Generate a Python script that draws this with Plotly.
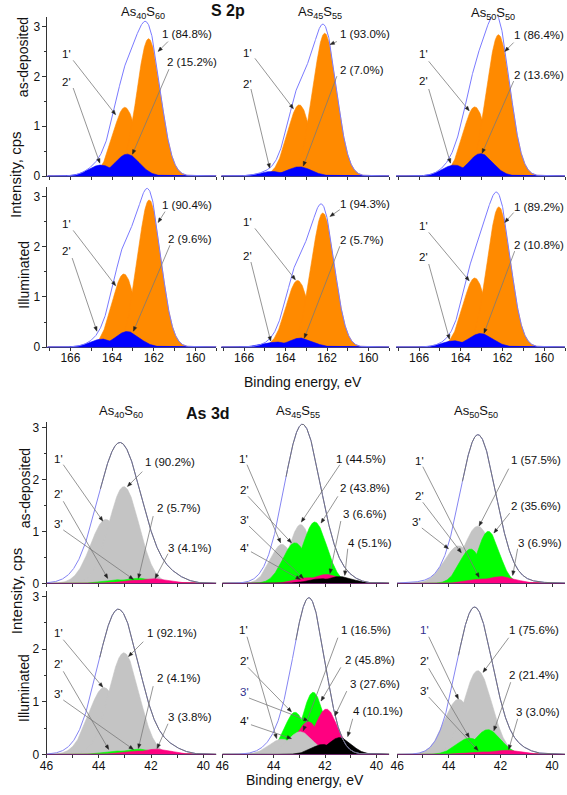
import math
import numpy as np
import plotly.graph_objects as go

W, H = 567, 795

# ---------------- data ----------------
COMPOSITIONS = ["As<sub>40</sub>S<sub>60</sub>", "As<sub>45</sub>S<sub>55</sub>", "As<sub>50</sub>S<sub>50</sub>"]
ROW_LABELS = ["as-deposited", "Illuminated"]
S2P_TICKS = [166, 164, 162, 160]
S2P_MINOR = [167, 165, 163, 161, 159]
AS3D_TICKS = [46, 44, 42, 40]
AS3D_MINOR = [45, 43, 41]
Y_TICKS = [0, 1, 2, 3]
S2P_X_RANGE = [167.1, 159.0]
AS3D_X_RANGE = [46.0, 39.5]
S2P_Y_RANGE = [0, 3.2]
AS3D_Y_RANGE = [0, 3.1]

# panel order: as-dep 40/60, 45/55, 50/50, illuminated 40/60, 45/55, 50/50
S2P_P1_POS = [162.25, 162.11, 162.19, 162.22, 162.20, 162.17]
S2P_P1_H = [2.76, 2.87, 2.84, 2.94, 2.68, 2.80]
S2P_P1P_POS = [163.39, 163.34, 163.33, 163.44, 163.42, 163.33]
S2P_P1P_H = [1.38, 1.43, 1.39, 1.46, 1.33, 1.38]
S2P_P1_SIGMA = [0.57, 0.57, 0.57, 0.56, 0.56, 0.56]
S2P_P2_POS = [163.28, 163.34, 163.05, 163.28, 163.28, 163.05]
S2P_P2_H = [0.44, 0.185, 0.45, 0.31, 0.18, 0.27]
S2P_P2P_POS = [164.54, 164.66, 164.31, 164.46, 164.42, 164.31]
S2P_P2P_H = [0.22, 0.09, 0.22, 0.16, 0.10, 0.125]
S2P_P2_SIGMA = [0.58, 0.58, 0.58, 0.58, 0.58, 0.58]
S2P_PCT_1 = ["1 (84.8%)", "1 (93.0%)", "1 (86.4%)", "1 (90.4%)", "1 (94.3%)", "1 (89.2%)"]
S2P_PCT_2 = ["2 (15.2%)", "2 (7.0%)", "2 (13.6%)", "2 (9.6%)", "2 (5.7%)", "2 (10.8%)"]

AS3D_P1_POS = [43.04, 42.95, 42.88, 43.04, 42.97, 42.88]
AS3D_P1_H = [1.86, 1.13, 1.10, 1.93, 0.43, 1.59]
AS3D_P1P_POS = [43.73, 43.68, 43.62, 43.80, 43.67, 43.62]
AS3D_P1P_H = [1.23, 0.75, 0.72, 1.27, 0.29, 1.05]
AS3D_P1_SIGMA = [0.58, 0.45, 0.55, 0.58, 0.50, 0.55]
AS3D_P2_POS = [42.47, 42.40, 42.47, 42.47, 42.46, 42.49]
AS3D_P2_H = [0.10, 1.18, 1.00, 0.10, 1.18, 0.47]
AS3D_P2P_POS = [43.17, 43.17, 43.16, 43.17, 43.17, 43.20]
AS3D_P2P_H = [0.07, 0.78, 0.66, 0.065, 0.80, 0.31]
AS3D_P2_SIGMA = [0.55, 0.47, 0.42, 0.55, 0.42, 0.50]
AS3D_P3_POS = [41.84, 41.95, 41.98, 41.78, 41.95, 41.73]
AS3D_P3_H = [0.09, 0.17, 0.13, 0.10, 0.86, 0.08]
AS3D_P3P_POS = [42.54, 42.65, 42.68, 42.48, 42.65, 42.43]
AS3D_P3P_H = [0.06, 0.11, 0.085, 0.065, 0.62, 0.05]
AS3D_P3_SIGMA = [0.55, 0.50, 0.55, 0.55, 0.45, 0.55]
AS3D_P4_POS = [0, 41.43, 0, 0, 41.43, 0]
AS3D_P4_H = [0, 0.13, 0, 0, 0.32, 0]
AS3D_P4P_POS = [0, 42.13, 0, 0, 42.08, 0]
AS3D_P4P_H = [0, 0.09, 0, 0, 0.19, 0]
AS3D_P4_SIGMA = [0.5, 0.5, 0.5, 0.5, 0.45, 0.5]
AS3D_ENV_POS = [43.19, 42.88, 42.87, 43.25, 42.60, 43.00]
AS3D_ENV_H = [2.71, 3.06, 2.74, 2.76, 2.90, 2.80]
AS3D_ENV_SIGMA = [0.835, 0.71, 0.68, 0.79, 0.60, 0.70]
AS3D_TAIL_POS = [41.2, 41.3, 42.9, 41.3, 43.6, 41.3]
AS3D_TAIL_H = [0.10, 0.10, 0.12, 0.10, 0.30, 0.08]
AS3D_TAIL_SIGMA = [0.5, 0.5, 1.3, 0.5, 0.6, 0.5]
AS3D_PCT = [
    ["1 (90.2%)", "2 (5.7%)", "3 (4.1%)"],
    ["1 (44.5%)", "2 (43.8%)", "3 (6.6%)", "4 (5.1%)"],
    ["1 (57.5%)", "2 (35.6%)", "3 (6.9%)"],
    ["1 (92.1%)", "2 (4.1%)", "3 (3.8%)"],
    ["1 (16.5%)", "2 (45.8%)", "3 (27.6%)", "4 (10.1%)"],
    ["1 (75.6%)", "2 (21.4%)", "3 (3.0%)"],
]
AS3D_PRIMES = [["1'", "2'", "3'"], ["1'", "2'", "3'", "4'"], ["1'", "2'", "3'"],
               ["1'", "2'", "3'"], ["1'", "2'", "3'", "4'"], ["1'", "2'", "3'"]]

# ---------------- layout / style (pixels) ----------------
FONT = "Liberation Sans, Arial, sans-serif"
ORANGE, BLUE, S2P_ENV = "#ff8a00", "#0000ff", "#7a7aff"
GRAY, GREEN, PINK, BLACK = "#c4c4c4", "#00ff00", "#ff0080", "#000000"
NAVY = "#2e2e8c"
COLS_TOP = [(41, 212), (217, 387), (394, 565)]
ROWS_TOP = [(15, 176), (187, 349)]
COLS_BOT = [(40, 212), (218, 387), (395, 565)]
ROWS_BOT = [(425, 588), (596, 761)]
DRAW_ORDER = [[1, 2, 3, 4], [1, 2, 3, 4], [1, 2, 3, 4], [1, 2, 3, 4], [2, 3, 1, 4], [1, 2, 3, 4]]
LABEL_SIZE = 11.5
ENV_GRAY_SPAN = 0.9  # gray envelope colour on the high-energy flank down to this many sigma
PRIME_COLORS = [["#111"] * 3, ["#111"] * 4, ["#111"] * 3,
                ["#111"] * 3, ["#111", "#111", NAVY, "#111"], [NAVY, "#111", "#111"]]

S2P_PRIME_LAYOUT = [
    [((60, 53), (67, 59), (110, 114)), ((60, 81), (67, 87), (94, 163))],
    [((244, 52), (251, 57), (290, 108)), ((244, 83), (247, 88), (266, 168))],
    [((422, 53), (427, 60), (468, 110)), ((422, 80), (427, 88), (449, 163))],
    [((60, 225), (67, 231), (110, 287)), ((60, 252), (66, 259), (91, 333))],
    [((244, 223), (251, 229), (292, 281)), ((244, 257), (247, 263), (267, 343))],
    [((422, 227), (427, 233), (468, 282)), ((422, 258), (427, 265), (448, 341))],
]
S2P_PCT_LAYOUT = [
    [((157, 32), (163, 40), (153, 50)), ((162, 61), (164, 68), (127, 154))],
    [((337, 32), (334, 40), (327, 43)), ((337, 69), (334, 75), (300, 166))],
    [((513, 33), (513, 41), (504, 50)), ((513, 74), (513, 80), (481, 153))],
    [((157, 205), (160, 212), (153, 223)), ((163, 240), (165, 246), (128, 333))],
    [((337, 204), (337, 210), (327, 217)), ((337, 241), (337, 247), (301, 340))],
    [((513, 207), (513, 213), (504, 223)), ((513, 246), (514, 252), (483, 335))],
]
AS3D_PRIME_LAYOUT = [
    [((52, 462), (57, 468), (97, 525)), ((52, 498), (57, 505), (102, 583)), ((52, 528), (57, 534), (128, 584))],
    [((239, 462), (243, 468), (277, 547)), ((240, 494), (244, 500), (288, 547)),
     ((240, 524), (245, 530), (300, 583)), ((240, 552), (247, 556), (297, 584))],
    [((418, 464), (421, 470), (478, 582)), ((418, 500), (421, 506), (460, 557)), ((415, 526), (420, 532), (447, 553))],
    [((52, 638), (57, 645), (97, 693)), ((52, 670), (57, 677), (103, 756)), ((52, 700), (57, 706), (128, 756))],
    [((239, 635), (243, 642), (273, 745)), ((240, 667), (244, 673), (288, 718)),
     ((240, 698), (245, 704), (305, 727)), ((240, 727), (247, 731), (288, 745))],
    [((423, 635), (427, 642), (457, 705)), ((423, 667), (427, 674), (468, 744)), ((423, 697), (427, 703), (477, 757))],
]
AS3D_PCT_LAYOUT = [
    [((140, 465), (137, 475), (122, 490)), ((152, 512), (148, 520), (133, 583)), ((163, 552), (163, 558), (150, 583))],
    [((333, 462), (337, 468), (298, 526)), ((337, 492), (335, 500), (318, 527)),
     ((340, 518), (338, 525), (327, 578)), ((345, 547), (345, 553), (342, 580))],
    [((510, 463), (508, 472), (478, 530)), ((510, 510), (509, 517), (493, 537)), ((517, 547), (517, 553), (512, 580))],
    [((142, 638), (138, 647), (123, 662)), ((152, 684), (148, 692), (133, 755)), ((163, 723), (163, 730), (152, 755))],
    [((338, 635), (335, 643), (300, 737)), ((342, 666), (338, 673), (318, 707)),
     ((347, 690), (344, 697), (332, 722)), ((350, 717), (350, 725), (345, 743))],
    [((508, 635), (508, 643), (482, 678)), ((508, 681), (510, 688), (493, 737)), ((515, 718), (517, 725), (508, 756))],
]


def gauss(x, c, h, s):
    return h * np.exp(-(x - c) ** 2 / (2 * s * s))


def px2paper(px, py):
    return px / W, 1 - py / H


fig = go.Figure()
layout = dict(width=W, height=H, margin=dict(l=0, r=0, t=0, b=0), showlegend=False,
              plot_bgcolor="white", paper_bgcolor="white", font=dict(family=FONT, color="#111"))
annotations = []
shapes = []


def add_fill(x, y, color, xa, ya):
    fig.add_trace(go.Scatter(x=x, y=y, mode="lines", line=dict(width=0.6, color=color),
                             fill="tozeroy", fillcolor=color, xaxis=xa, yaxis=ya, hoverinfo="skip"))


def add_line(x, y, color, xa, ya, w=1.0):
    fig.add_trace(go.Scatter(x=x, y=y, mode="lines", line=dict(width=w, color=color),
                             xaxis=xa, yaxis=ya, hoverinfo="skip"))


def arrow(tail, tip, head=4.5, half=1.7):
    tx, ty = tail
    hx, hy = tip
    dx, dy = hx - tx, hy - ty
    length = math.hypot(dx, dy)
    ux, uy = dx / length, dy / length
    bx, by = hx - ux * head, hy - uy * head
    x0, y0 = px2paper(tx, ty)
    x1, y1 = px2paper(bx, by)
    shapes.append(dict(type="line", xref="paper", yref="paper", x0=x0, y0=y0, x1=x1, y1=y1,
                       line=dict(color="#7a7a7a", width=0.8)))
    pxv, pyv = -uy, ux
    pts = [(hx, hy), (bx + pxv * half, by + pyv * half), (bx - pxv * half, by - pyv * half)]
    pp = [px2paper(*p) for p in pts]
    path = "M {} {} L {} {} L {} {} Z".format(pp[0][0], pp[0][1], pp[1][0], pp[1][1], pp[2][0], pp[2][1])
    shapes.append(dict(type="path", xref="paper", yref="paper", path=path,
                       fillcolor="#222", line=dict(color="#222", width=0.5)))


def label(text, pos, anchor="center", size=LABEL_SIZE, color="#111"):
    x, y = px2paper(*pos)
    annotations.append(dict(x=x, y=y, xref="paper", yref="paper", text=text, showarrow=False,
                            xanchor=anchor, yanchor="middle", borderpad=0, borderwidth=0,
                            font=dict(size=size, family=FONT, color=color)))


def setup_axes(n, xdom, ydom, xrange, yrange, ticks, minor, show_x_labels, show_y, linecolor):
    xid = "x" if n == 1 else f"x{n}"
    yid = "y" if n == 1 else f"y{n}"
    xk = "xaxis" if n == 1 else f"xaxis{n}"
    yk = "yaxis" if n == 1 else f"yaxis{n}"
    layout[xk] = dict(domain=[xdom[0] / W, xdom[1] / W], range=xrange, anchor=yid,
                      showline=True, linecolor=linecolor, linewidth=1, mirror=False,
                      ticks="outside", ticklen=3, tickcolor="#333", tickwidth=1,
                      tickmode="array", tickvals=ticks, showticklabels=show_x_labels,
                      ticklabelstandoff=-3,
                      tickfont=dict(size=12, family=FONT), showgrid=False, zeroline=False,
                      fixedrange=True,
                      minor=dict(tickmode="array", tickvals=minor, ticks="outside", ticklen=3,
                                 tickcolor="#333", showgrid=False))
    ya = dict(domain=[1 - ydom[1] / H, 1 - ydom[0] / H], range=yrange, anchor=xid,
              showgrid=False, zeroline=False, fixedrange=True)
    if show_y:
        ya.update(showline=True, linecolor="#333", linewidth=1, ticks="outside", ticklen=4,
                  tickcolor="#333", tickmode="array", tickvals=Y_TICKS,
                  tickfont=dict(size=12, family=FONT),
                  minor=dict(tickmode="array", tickvals=[0.5, 1.5, 2.5], ticks="outside",
                             ticklen=2, tickcolor="#333", showgrid=False))
    else:
        ya.update(visible=False)
    layout[yk] = ya
    return xid, yid


# ---------------- S 2p block ----------------
for i in range(6):
    r, c = divmod(i, 3)
    n = i + 1
    xa, ya = setup_axes(n, COLS_TOP[c], ROWS_TOP[r], S2P_X_RANGE, S2P_Y_RANGE,
                        S2P_TICKS, S2P_MINOR, r == 1, c == 0, "#3a3a8a")
    x = np.linspace(S2P_X_RANGE[1], S2P_X_RANGE[0], 600)
    s1, s2 = S2P_P1_SIGMA[i], S2P_P2_SIGMA[i]
    p1 = gauss(x, S2P_P1_POS[i], S2P_P1_H[i], s1)
    p1p = gauss(x, S2P_P1P_POS[i], S2P_P1P_H[i], s1)
    p2 = gauss(x, S2P_P2_POS[i], S2P_P2_H[i], s2)
    p2p = gauss(x, S2P_P2P_POS[i], S2P_P2P_H[i], s2)
    add_fill(x, p1p, ORANGE, xa, ya)
    add_fill(x, p1, ORANGE, xa, ya)
    add_fill(x, p2p, BLUE, xa, ya)
    add_fill(x, p2, BLUE, xa, ya)
    add_line(x, p1 + p1p + p2 + p2p, S2P_ENV, xa, ya, 1.0)
    for txt, lay in zip(["1'", "2'"], S2P_PRIME_LAYOUT[i]):
        label(txt, lay[0], "center")
        arrow(lay[1], lay[2])
    for txt, lay in zip([S2P_PCT_1[i], S2P_PCT_2[i]], S2P_PCT_LAYOUT[i]):
        label(txt, lay[0], "left")
        arrow(lay[1], lay[2])

# ---------------- As 3d block ----------------
AS3D_COLORS = {1: GRAY, 2: GREEN, 3: PINK, 4: BLACK}
for i in range(6):
    r, c = divmod(i, 3)
    n = 7 + i
    xa, ya = setup_axes(n, COLS_BOT[c], ROWS_BOT[r], AS3D_X_RANGE, AS3D_Y_RANGE,
                        AS3D_TICKS, AS3D_MINOR, r == 1, c == 0, "#6a2a6a")
    x = np.linspace(AS3D_X_RANGE[1], AS3D_X_RANGE[0], 600)
    comps = {
        1: (AS3D_P1_POS[i], AS3D_P1_H[i], AS3D_P1P_POS[i], AS3D_P1P_H[i], AS3D_P1_SIGMA[i]),
        2: (AS3D_P2_POS[i], AS3D_P2_H[i], AS3D_P2P_POS[i], AS3D_P2P_H[i], AS3D_P2_SIGMA[i]),
        3: (AS3D_P3_POS[i], AS3D_P3_H[i], AS3D_P3P_POS[i], AS3D_P3P_H[i], AS3D_P3_SIGMA[i]),
        4: (AS3D_P4_POS[i], AS3D_P4_H[i], AS3D_P4P_POS[i], AS3D_P4P_H[i], AS3D_P4_SIGMA[i]),
    }
    for k in DRAW_ORDER[i]:
        cpos, ch, ppos, ph, sg = comps[k]
        if ch <= 0:
            continue
        add_fill(x, gauss(x, ppos, ph, sg), AS3D_COLORS[k], xa, ya)
        add_fill(x, gauss(x, cpos, ch, sg), AS3D_COLORS[k], xa, ya)
    env = gauss(x, AS3D_ENV_POS[i], AS3D_ENV_H[i], AS3D_ENV_SIGMA[i]) + \
        gauss(x, AS3D_TAIL_POS[i], AS3D_TAIL_H[i], AS3D_TAIL_SIGMA[i])
    add_line(x, env, "#8585f2", xa, ya, 1.0)
    mask = x <= AS3D_ENV_POS[i] + ENV_GRAY_SPAN * AS3D_ENV_SIGMA[i]
    add_line(x[mask], env[mask], "#747474", xa, ya, 1.0)
    for txt, lay, col in zip(AS3D_PRIMES[i], AS3D_PRIME_LAYOUT[i], PRIME_COLORS[i]):
        label(txt, lay[0], "center", color=col)
        arrow(lay[1], lay[2])
    for txt, lay in zip(AS3D_PCT[i], AS3D_PCT_LAYOUT[i]):
        label(txt, lay[0], "left")
        arrow(lay[1], lay[2])

# ---------------- titles ----------------
for txt, pos in zip(COMPOSITIONS, [(138, 11), (317, 11), (492, 12)]):
    label(txt, pos, "center", 13)
for txt, pos in zip(COMPOSITIONS, [(115, 414), (295, 414), (475, 414)]):
    label(txt, pos, "center", 13)
label("<b>S 2p</b>", (224, 9), "center", 16)
label("<b>As 3d</b>", (204, 416), "center", 16)
label("Binding energy, eV", (300, 384), "center", 14)
label("Binding energy, eV", (302, 787), "center", 14)


def vlabel(text, pos, size):
    x, y = px2paper(*pos)
    annotations.append(dict(x=x, y=y, xref="paper", yref="paper", text=text, showarrow=False,
                            textangle=-90, xanchor="center", yanchor="middle",
                            font=dict(size=size, family=FONT, color="#111")))


vlabel("Intensity, cps", (8, 175), 15)
vlabel("Intensity, cps", (9, 596), 15)
vlabel(ROW_LABELS[0], (17, 56), 14)
vlabel(ROW_LABELS[1], (17, 276), 14)
vlabel(ROW_LABELS[0], (19, 492), 14)
vlabel(ROW_LABELS[1], (17, 694), 14)

layout["annotations"] = annotations
layout["shapes"] = shapes
fig.update_layout(**layout)
fig.write_html("out.html", config={"displayModeBar": False},
               post_script="document.body.style.margin='0px';document.body.style.padding='0px';")
